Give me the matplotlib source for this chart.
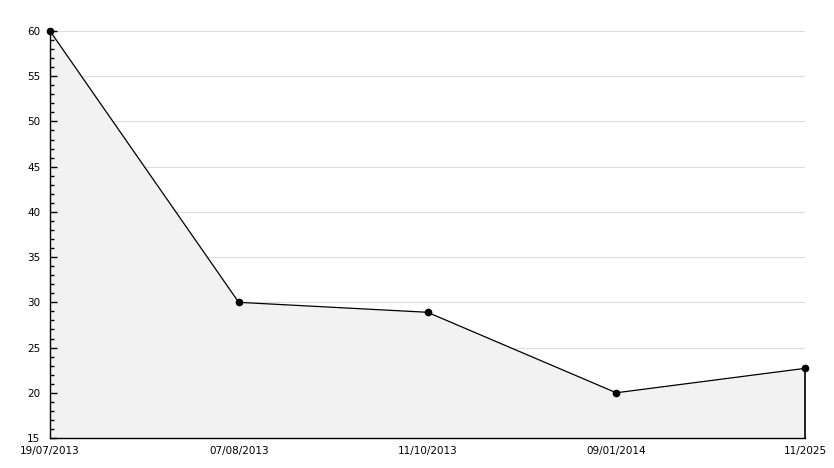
import matplotlib.pyplot as plt
from matplotlib.ticker import MultipleLocator

# DATA
dates = ["19/07/2013", "07/08/2013", "11/10/2013", "09/01/2014", "11/2025"]
values = [60, 30, 28.9, 20, 22.7]
y_ticks = [15, 20, 25, 30, 35, 40, 45, 50, 55, 60]

x = list(range(len(dates)))

fig = plt.figure(figsize=(8.34, 4.68), dpi=100)
ax = fig.add_axes([50 / 834, 30 / 468, 755 / 834, 407 / 468])

# horizontal grid lines behind the filled area
for yv in y_ticks[1:]:
    ax.axhline(yv, color="#dddddd", lw=0.8, zorder=0.2)

ax.fill_between(x, values, 15, color="#f2f2f2", lw=0, zorder=0.5)
ax.plot(x, values, color="black", lw=0.9, marker="o", ms=4.5,
        zorder=3, clip_on=False)
ax.plot([x[-1], x[-1]], [15, values[-1]], color="black", lw=1.2,
        zorder=3, clip_on=False)

ax.set_xlim(0, len(dates) - 1)
ax.set_ylim(15, 60)
ax.set_xticks(x)
ax.set_xticklabels(dates)
ax.set_yticks(y_ticks)
ax.yaxis.set_minor_locator(MultipleLocator(1))

for s in ["top", "right"]:
    ax.spines[s].set_visible(False)
ax.spines["left"].set_linewidth(1)
ax.spines["bottom"].set_linewidth(1)

ax.tick_params(axis="y", which="major", direction="in", length=5, width=1,
               labelsize=7.5, pad=7)
ax.tick_params(axis="y", which="minor", direction="in", length=3, width=1)
ax.tick_params(axis="x", length=0, labelsize=7.5, pad=6)

fig.savefig("out.png", dpi=100)
